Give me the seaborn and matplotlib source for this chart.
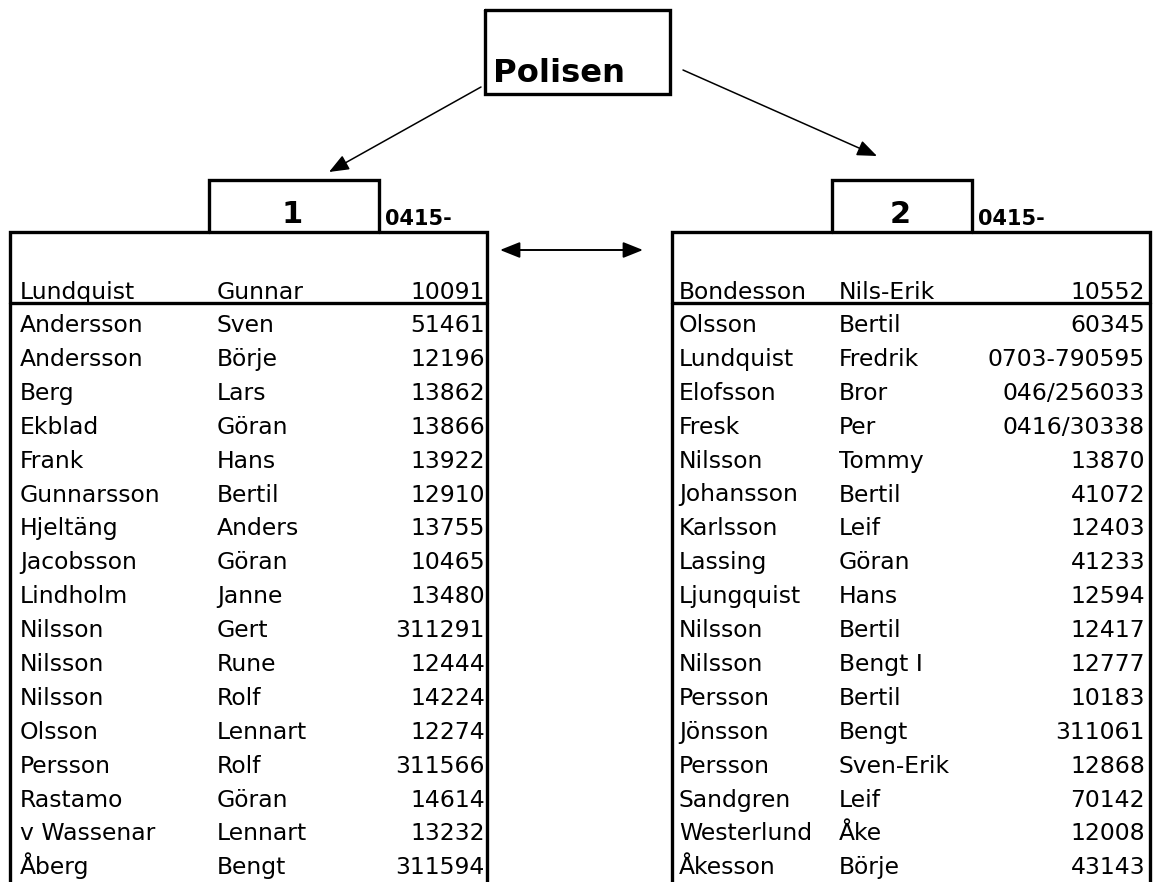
import matplotlib
matplotlib.use("Agg")
import matplotlib.pyplot as plt
import seaborn as sns

sns.set_theme(style="white")
plt.rcParams["font.family"] = ["DejaVu Sans"]

# ---- data ----
title = "Polisen"
group1 = "1"
group2 = "2"
prefix = "0415-"

head1 = ("Lundquist", "Gunnar", "10091")
last1 = ["Andersson", "Andersson", "Berg", "Ekblad", "Frank", "Gunnarsson",
         "Hjeltäng", "Jacobsson", "Lindholm", "Nilsson", "Nilsson", "Nilsson",
         "Olsson", "Persson", "Rastamo", "v Wassenar", "Åberg"]
first1 = ["Sven", "Börje", "Lars", "Göran", "Hans", "Bertil", "Anders", "Göran",
          "Janne", "Gert", "Rune", "Rolf", "Lennart", "Rolf", "Göran", "Lennart",
          "Bengt"]
phone1 = ["51461", "12196", "13862", "13866", "13922", "12910", "13755", "10465",
          "13480", "311291", "12444", "14224", "12274", "311566", "14614",
          "13232", "311594"]

head2 = ("Bondesson", "Nils-Erik", "10552")
last2 = ["Olsson", "Lundquist", "Elofsson", "Fresk", "Nilsson", "Johansson",
         "Karlsson", "Lassing", "Ljungquist", "Nilsson", "Nilsson", "Persson",
         "Jönsson", "Persson", "Sandgren", "Westerlund", "Åkesson"]
first2 = ["Bertil", "Fredrik", "Bror", "Per", "Tommy", "Bertil", "Leif", "Göran",
          "Hans", "Bertil", "Bengt I", "Bertil", "Bengt", "Sven-Erik", "Leif",
          "Åke", "Börje"]
phone2 = ["60345", "0703-790595", "046/256033", "0416/30338", "13870", "41072",
          "12403", "41233", "12594", "12417", "12777", "10183", "311061", "12868",
          "70142", "12008", "43143"]

# ---- layout ----
W, H = 1155, 882
fig = plt.figure(figsize=(W / 100, H / 100), dpi=100)
ax = fig.add_axes([0, 0, 1, 1])
ax.set_xlim(0, W)
ax.set_ylim(H, 0)
ax.axis("off")

FS = 16.9
BLW = 2.4
k = "black"

def box(x0, y0, x1, y1, lw=BLW):
    ax.plot([x0, x1, x1, x0, x0], [y0, y0, y1, y1, y0], color=k, lw=lw,
            solid_joinstyle="miter")

# title box
box(485, 10, 670, 94)
ax.text(493, 82, title, fontsize=23.2, fontweight="bold", va="baseline", ha="left", color=k)

# arrows
hs = "-|>,head_length=0.55,head_width=0.22"
ap = dict(arrowstyle=hs, color=k, lw=1.1, mutation_scale=22, shrinkA=0, shrinkB=0)
ax.annotate("", xy=(329, 172), xytext=(481, 87), arrowprops=ap)
ax.annotate("", xy=(877, 156), xytext=(683, 70), arrowprops=ap)
ap2 = dict(arrowstyle="<|-|>,head_length=0.55,head_width=0.22", color=k, lw=1.4,
           mutation_scale=22, shrinkA=0, shrinkB=0)
ax.annotate("", xy=(643, 250), xytext=(500, 250), arrowprops=ap2)

def table(xl, xr, xlast, xfirst, xnum, gx0, gx1, glabel, head, lasts, firsts, phones):
    top, sep = 232, 303
    # group box
    ax.plot([gx0, gx0, gx1, gx1], [top, 180, 180, top], color=k, lw=BLW,
            solid_joinstyle="miter")
    ax.text((gx0 + gx1) / 2 - 2, 223, glabel, fontsize=22, fontweight="bold",
            ha="center", va="baseline", color=k)
    ax.text(gx1 + 6, 225, prefix, fontsize=15, fontweight="bold",
            ha="left", va="baseline", color=k)
    # table frame
    ax.plot([xl, xl, xr, xr], [H + 5, top, top, H + 5], color=k, lw=BLW,
            solid_joinstyle="miter")
    ax.plot([xl, xr], [sep, sep], color=k, lw=BLW)
    # header row
    ax.text(xlast, 299, head[0], fontsize=FS, va="baseline", ha="left", color=k)
    ax.text(xfirst, 299, head[1], fontsize=FS, va="baseline", ha="left", color=k)
    ax.text(xnum, 299, head[2], fontsize=FS, va="baseline", ha="right", color=k)
    for i, (a, b, c) in enumerate(zip(lasts, firsts, phones)):
        y = 332 + i * 33.9
        ax.text(xlast, y, a, fontsize=FS, va="baseline", ha="left", color=k)
        ax.text(xfirst, y, b, fontsize=FS, va="baseline", ha="left", color=k)
        ax.text(xnum, y, c, fontsize=FS, va="baseline", ha="right", color=k)

table(10, 487, 20, 217, 485, 209, 379, group1, head1, last1, first1, phone1)
table(672, 1150, 679, 839, 1145, 832, 972, group2, head2, last2, first2, phone2)

fig.savefig("out.png", dpi=100, facecolor="white")
